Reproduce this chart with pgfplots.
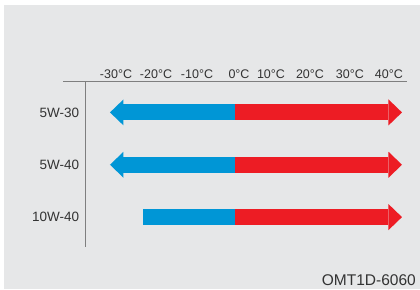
\documentclass[border=0pt]{standalone}
\usepackage{fontspec}
\setmainfont{Liberation Sans}
\usepackage{pgfplots}
\pgfplotsset{compat=1.18}
\usetikzlibrary{arrows.meta}
\definecolor{bg}{HTML}{E6E7E8}
\definecolor{cblue}{HTML}{0096D6}
\definecolor{cred}{HTML}{ED1C24}
\definecolor{axgray}{HTML}{7F7F7F}
\definecolor{txt}{HTML}{333333}
\begin{document}
\begin{tikzpicture}[x=1pt,y=1pt]
\fill[white] (0,0) rectangle (420,289);
\fill[bg] (4,0) rectangle (420,284);
\draw[axgray, line width=1pt] (63,207) -- (406.7,207);
\draw[axgray, line width=1pt] (85.3,207) -- (85.3,41.7);
\begin{axis}[
  at={(85.3pt,41.7pt)}, anchor=south west,
  scale only axis, width=321.4pt, height=165.3pt,
  xmin=-35.92, xmax=41.13, ymin=0.423, ymax=3.581,
  axis line style={draw=none}, major tick length=0pt,
  xtick={-28.56,-18.97,-9.14,0.93,8.6,17.95,27.5,36.85},
  xticklabels={-30°C,-20°C,-10°C,0°C,10°C,20°C,30°C,40°C},
  xticklabel pos=upper,
  ytick={1,2,3}, yticklabels={10W-40,5W-40,5W-30},
  xticklabel style={font=\fontsize{12.5}{14}\selectfont, text=txt, anchor=base, yshift=3.7pt},
  yticklabel style={font=\fontsize{13.5}{15}\selectfont, text=txt, anchor=east, inner sep=0pt, xshift=-6pt},
  clip=false,
]
% 5W-30
\addplot[cblue, line width=16pt, no marks, -{Triangle[length=13.5pt,width=26pt,line width=0pt]}] coordinates {(0,3) (-30,3)};
\addplot[cred, line width=16pt, no marks, -{Triangle[length=13.5pt,width=26pt,line width=0pt]}] coordinates {(0,3) (40,3)};
% 5W-40
\addplot[cblue, line width=16pt, no marks, -{Triangle[length=13.5pt,width=26pt,line width=0pt]}] coordinates {(0,2) (-30,2)};
\addplot[cred, line width=16pt, no marks, -{Triangle[length=13.5pt,width=26pt,line width=0pt]}] coordinates {(0,2) (40,2)};
% 10W-40
\addplot[cblue, line width=16pt, no marks] coordinates {(0,1) (-22,1)};
\addplot[cred, line width=16pt, no marks, -{Triangle[length=13.5pt,width=26pt,line width=0pt]}] coordinates {(0,1) (40,1)};
\end{axis}
\node[anchor=base east, font=\fontsize{15.5}{17}\selectfont, text=txt, inner sep=0pt] at (416,3.5) {OMT1D-6060};
\end{tikzpicture}
\end{document}
